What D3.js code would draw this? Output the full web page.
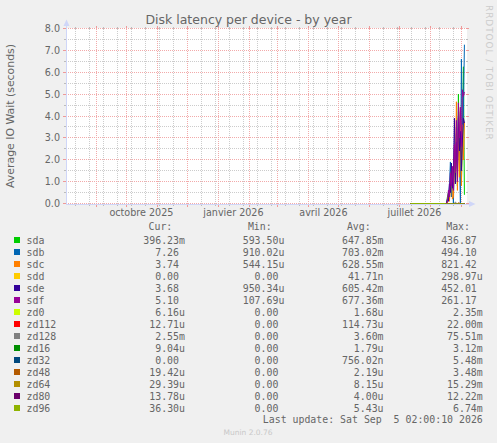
<!DOCTYPE html>
<html><head><meta charset="utf-8">
<script src="https://cdn.jsdelivr.net/npm/d3@7"></script>
<style>
html,body{margin:0;padding:0;background:#F0F0F0;}
svg{display:block;}
text{font-family:"DejaVu Sans",sans-serif;fill:#666;}
.mono{font-family:"DejaVu Sans Mono",monospace;font-size:9.9px;white-space:pre;}
</style>
</head><body>
<svg id="chart" width="497" height="443"></svg>
<script>
// ---- data ----
const title = "Disk latency per device - by year";
const yTitle = "Average IO Wait (seconds)";
const categories = ["sda","sdb","sdc","sdd","sde","sdf","zd0","zd112","zd128","zd16","zd32","zd48","zd64","zd80","zd96"];
const palette = ["#00CC00","#0066B3","#FF8000","#FFCC00","#330099","#990099","#CCFF00","#FF0000","#808080","#008F00","#00487D","#B35A00","#B38F00","#6B006B","#8FB300"];
const dates = ["2026-07-12","2026-08-16","2026-08-17","2026-08-18","2026-08-19","2026-08-20","2026-08-21","2026-08-22","2026-08-23","2026-08-24","2026-08-25","2026-08-26","2026-08-27","2026-08-28","2026-08-29","2026-08-30","2026-08-31","2026-09-01","2026-09-02","2026-09-03","2026-09-04"];
const sda = [0,0, 0,0.3,0.5,0.2,1.0,0.6,1.5,0.4,2.1,1.2,3.2,0.8,5.0,2.0,4.2,1.0,3.0,6.25,0.396];
const sdb = [0,0, 0,0.1,0.2,0.8,1.9,0.3,1.4,0.0,2.5,1.0,3.5,1.5,4.0,2.2,0.0,6.6,2.8,4.1,7.26];
const sdc = [0,0, 0,0,0.4,0.1,0.7,1.5,0.2,0.3,2.6,0.9,4.65,0.6,3.3,1.2,4.4,0.8,3.6,2.0,3.74];
const sdd = [0,0, 0,0,0,0,0,0,0,0,0,0,0,0,0,0,0,0,0,0,0];
const sde = [0,0, 0,0.2,0.1,0.9,0.5,1.85,0.7,1.3,3.9,0.9,2.8,1.6,3.9,2.4,3.3,1.5,2.9,3.9,3.68];
const sdf = [0,0, 0,0.1,0.6,0.3,1.4,0.8,1.7,0.6,2.7,1.4,3.8,1.0,4.6,3.0,4.4,2.6,5.2,4.9,5.10];
const zd0 = [0,0, 0,0,0,0,0,0,0,0,0,0,0,0,0,0,0,0,0,0,0];
const zd112 = [0,0, 0,0,0,0,0,0,0,0,0,0,0,0,0.02,0,0,0,0,0,0];
const zd128 = [0,0, 0,0,0,0,0,0,0,0,0,0.075,0,0,0,0,0,0,0,0,0.0026];
const zd16 = [0,0, 0,0,0,0,0,0,0,0,0,0,0,0,0,0,0,0,0,0,0];
const zd32 = [0,0, 0,0,0,0,0,0,0,0,0,0,0,0,0,0,0,0,0,0,0];
const zd48 = [0,0, 0,0,0,0,0,0,0,0,0,0,0,0,0,0,0,0,0,0,0];
const zd64 = [0,0, 0,0,0,0,0,0,0,0,0,0,0,0,0.015,0,0,0,0,0,0];
const zd80 = [0,0, 0,0,0,0,0,0,0,0,0,0,0,0,0,0.012,0,0,0,0,0];
const zd96 = [0,0, 0,0,0,0,0,0,0,0,0,0,0,0,0,0,0,0,0,0,0];
const seriesValues = [sda,sdb,sdc,sdd,sde,sdf,zd0,zd112,zd128,zd16,zd32,zd48,zd64,zd80,zd96];

const curVals = ["396.23m","7.26","3.74","0.00","3.68","5.10","6.16u","12.71u","2.55m","9.04u","0.00","19.42u","29.39u","13.78u","36.30u"];
const minVals = ["593.50u","910.02u","544.15u","0.00","950.34u","107.69u","0.00","0.00","0.00","0.00","0.00","0.00","0.00","0.00","0.00"];
const avgVals = ["647.85m","703.02m","628.55m","41.71n","605.42m","677.36m","1.68u","114.73u","3.60m","1.79u","756.02n","2.19u","8.15u","4.00u","5.43u"];
const maxVals = ["436.87","494.10","821.42","298.97u","452.01","261.17","2.35m","22.00m","75.51m","3.12m","5.48m","3.48m","15.29m","12.22m","6.74m"];
const colHeaders = ["Cur:","Min:","Avg:","Max:"];

const xTickDates = ["2025-10-16","2026-01-16","2026-04-16","2026-07-16"];
const xTickLabels = ["octobre 2025","janvier 2026","avril 2026","juillet 2026"];
const yTicks = [0,1,2,3,4,5,6,7,8];
const lastUpdate = "Last update: Sat Sep  5 02:00:10 2026";
const watermark = "RRDTOOL / TOBI OETIKER";
const version = "Munin 2.0.76";

// ---- drawing ----
const svg = d3.select("#chart");
const parse = d3.timeParse("%Y-%m-%d");
const tStart = new Date(2025,7,1,2,0,0), tEnd = new Date(2026,8,5,2,0,0);
const L = 66, R = 466, T = 28.5, B = 203.5;
const x = d3.scaleTime().domain([tStart,tEnd]).range([65.5,465.5]);
const y = d3.scaleLinear().domain([0,8]).range([B,T]);
const snap = v => Math.round(v) + 0.5;

// canvas
svg.append("rect").attr("x",L).attr("y",28).attr("width",R-L+1).attr("height",176).attr("fill","#fff");

const grid = svg.append("g").attr("shape-rendering","crispEdges");
const mondays = d3.timeMonday.range(tStart,tEnd).filter((d,i)=>i%2===1);
const months = d3.timeMonth.range(tStart,tEnd);
const minorGrey = "#CCCCCC", majorRed = "#F2AAAA";
mondays.forEach(d=>{
  const xx = snap(x(d)-0.5);
  grid.append("line").attr("x1",xx).attr("x2",xx).attr("y1",T).attr("y2",B)
    .attr("stroke",minorGrey).attr("stroke-dasharray","1,1");
  grid.append("line").attr("x1",xx).attr("x2",xx).attr("y1",B).attr("y2",B+2).attr("stroke","#BBB");
  grid.append("line").attr("x1",xx).attr("x2",xx).attr("y1",T-2).attr("y2",T).attr("stroke","#BBB");
});
d3.range(0.5,8,1).forEach(v=>{
  grid.append("line").attr("x1",L).attr("x2",R).attr("y1",y(v)).attr("y2",y(v))
    .attr("stroke",minorGrey).attr("stroke-dasharray","1,1");
  grid.append("line").attr("x1",L-2).attr("x2",L).attr("y1",y(v)).attr("y2",y(v)).attr("stroke","#BBB");
  grid.append("line").attr("x1",R).attr("x2",R+2).attr("y1",y(v)).attr("y2",y(v)).attr("stroke","#BBB");
});
months.forEach(d=>{
  const xx = snap(x(d)-0.5);
  grid.append("line").attr("x1",xx).attr("x2",xx).attr("y1",T).attr("y2",B)
    .attr("stroke",majorRed).attr("stroke-dasharray","1,1");
  grid.append("line").attr("x1",xx).attr("x2",xx).attr("y1",B).attr("y2",B+3).attr("stroke","#E99");
  grid.append("line").attr("x1",xx).attr("x2",xx).attr("y1",T-3).attr("y2",T).attr("stroke","#E99");
});
yTicks.forEach(v=>{
  grid.append("line").attr("x1",L).attr("x2",R).attr("y1",y(v)).attr("y2",y(v))
    .attr("stroke",majorRed).attr("stroke-dasharray","1,1");
  grid.append("line").attr("x1",L-3).attr("x2",L).attr("y1",y(v)).attr("y2",y(v)).attr("stroke","#E99");
  grid.append("line").attr("x1",R).attr("x2",R+3).attr("y1",y(v)).attr("y2",y(v)).attr("stroke","#E99");
});

// axes (rrdtool style)
const axisCol = "#CFD6F8";
svg.append("line").attr("x1",L+0.5).attr("x2",L+0.5).attr("y1",B+0.5).attr("y2",23).attr("stroke",axisCol).attr("shape-rendering","crispEdges");
svg.append("line").attr("x1",L).attr("x2",470).attr("y1",B+0.5).attr("y2",B+0.5).attr("stroke",axisCol).attr("shape-rendering","crispEdges");
svg.append("path").attr("d",`M${L-2.5},${26} L${L+0.5},${19.5} L${L+3.5},${26} Z`).attr("fill",axisCol);
svg.append("path").attr("d",`M${469},${B-2.5} L${475.5},${B+0.5} L${469},${B+3.5} Z`).attr("fill",axisCol);

svg.append("g").selectAll("text").data(yTicks).join("text")
  .attr("x",60).attr("y",v=>y(v)+3.5).attr("text-anchor","end").attr("font-size","9.6px")
  .text(v=>d3.format(".1f")(v));
svg.append("g").selectAll("text").data(xTickDates).join("text")
  .attr("x",d=>x(parse(d))).attr("y",216).attr("text-anchor","middle").attr("font-size","9.6px")
  .text((d,i)=>xTickLabels[i]);

svg.append("text").attr("x",248.5).attr("y",23.5).attr("text-anchor","middle").attr("font-size","12.5px").text(title);
svg.append("text").attr("transform","translate(14,116) rotate(-90)").attr("text-anchor","middle").attr("font-size","10.9px").text(yTitle);
svg.append("text").attr("transform","translate(486,5) rotate(90)").attr("text-anchor","start").attr("font-size","9px")
  .attr("letter-spacing","0.9px").style("fill","#CCCCCC").text(watermark);

const line = d3.line().x((d,i)=>x(parse(dates[i]))).y(d=>y(d));
const lines = svg.append("g");
seriesValues.forEach((vals,k)=>{
  lines.append("path").datum(vals).attr("d",line).attr("fill","none")
    .attr("stroke",palette[k]).attr("stroke-width",1);
});

const leg = svg.append("g");
const charW = 5.97;
const numEnds = [179, 278.4, 377.6, 476.8];
const headerEnds = [172.3, 271.7, 370.7, 470];
colHeaders.forEach((h,j)=>{
  leg.append("text").attr("class","mono").attr("x",headerEnds[j]).attr("y",230.2).attr("text-anchor","end").text(h);
});
const cols = [curVals,minVals,avgVals,maxVals];
categories.forEach((c,i)=>{
  const by = 243.5 + 12*i;
  leg.append("rect").attr("x",14).attr("y",by-6.5).attr("width",6).attr("height",6).attr("fill",palette[i]);
  leg.append("text").attr("class","mono").attr("x",26.5).attr("y",by).text(c);
  cols.forEach((arr,j)=>{
    const s = arr[i];
    const hasSuffix = /[a-zA-Z]$/.test(s);
    leg.append("text").attr("class","mono").attr("x",numEnds[j] + (hasSuffix?charW:0)).attr("y",by)
      .attr("text-anchor","end").text(s);
  });
});
leg.append("text").attr("class","mono").attr("x",482.8).attr("y",423.2).attr("text-anchor","end").text(lastUpdate);
svg.append("text").attr("x",248).attr("y",434.8).attr("text-anchor","middle").attr("font-size","7.5px").style("fill","#C8C8C8").text(version);
</script>
</body></html>
